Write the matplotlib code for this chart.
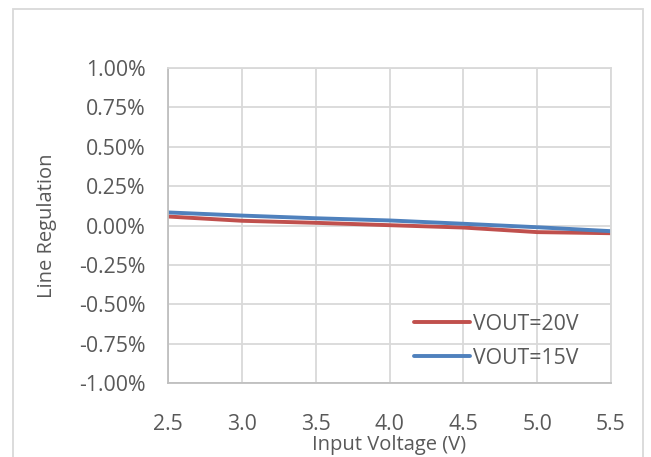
import matplotlib
matplotlib.use("Agg")
import matplotlib.pyplot as plt
from matplotlib.patches import Rectangle
from matplotlib.ticker import FuncFormatter

vin = [2.5, 3.0, 3.5, 4.0, 4.5, 5.0, 5.5]
reg_20v = [0.057, 0.030, 0.017, 0.002, -0.013, -0.042, -0.049]
reg_15v = [0.083, 0.063, 0.046, 0.032, 0.011, -0.011, -0.036]
series_names = ["VOUT=20V", "VOUT=15V"]
x_ticks = [2.5, 3.0, 3.5, 4.0, 4.5, 5.0, 5.5]
y_ticks = [-1.0, -0.75, -0.5, -0.25, 0.0, 0.25, 0.5, 0.75, 1.0]

plt.rcParams['font.family'] = ['Open Sans', 'DejaVu Sans']
W, H = 651, 457
fig = plt.figure(figsize=(W/100, H/100), dpi=100)
ax = fig.add_axes([168/W, 1-383/H, (611-168)/W, (383-68)/H])

txt = '#595959'
grid = '#d9d9d9'
ax.plot(vin, reg_20v, color='#C0504D', lw=2.8, label=series_names[0], solid_capstyle='round')
ax.plot(vin, reg_15v, color='#4F81BD', lw=2.8, label=series_names[1], solid_capstyle='round')

ax.set_xlim(2.5, 5.5)
ax.set_ylim(-1.0, 1.0)
ax.set_xticks(x_ticks)
ax.set_yticks(y_ticks)
ax.xaxis.set_major_formatter(FuncFormatter(lambda v, p: f"{v:.1f}"))
ax.yaxis.set_major_formatter(FuncFormatter(lambda v, p: f"{v:.2f}%"))
ax.grid(True, color=grid, lw=1.3)
ax.set_axisbelow(True)
for s in ax.spines.values():
    s.set_color(grid)
    s.set_linewidth(1.3)
ax.spines['left'].set_color('#bfbfbf')
ax.spines['bottom'].set_color('#bfbfbf')
ax.tick_params(length=0, labelsize=15.3, labelcolor=txt)
ax.tick_params(axis='x', pad=22)
ax.tick_params(axis='y', pad=16)

ax.set_xlabel("Input Voltage (V)", fontsize=14.5, color=txt, labelpad=0)
ax.set_ylabel("Line Regulation", fontsize=14.5, color=txt, labelpad=16)

leg = ax.legend(loc='lower right', bbox_to_anchor=(0.955, 0.005), frameon=False,
                fontsize=15.3, handlelength=2.6, handletextpad=0.15, labelspacing=0.62,
                borderaxespad=0.2)
for t in leg.get_texts():
    t.set_color(txt)

fig.patches.append(Rectangle((13/W, -0.05), (643-13)/W, (1-9/H)+0.05, transform=fig.transFigure,
                             fill=False, edgecolor=grid, lw=1.3))
fig.savefig("out.png", dpi=100)
